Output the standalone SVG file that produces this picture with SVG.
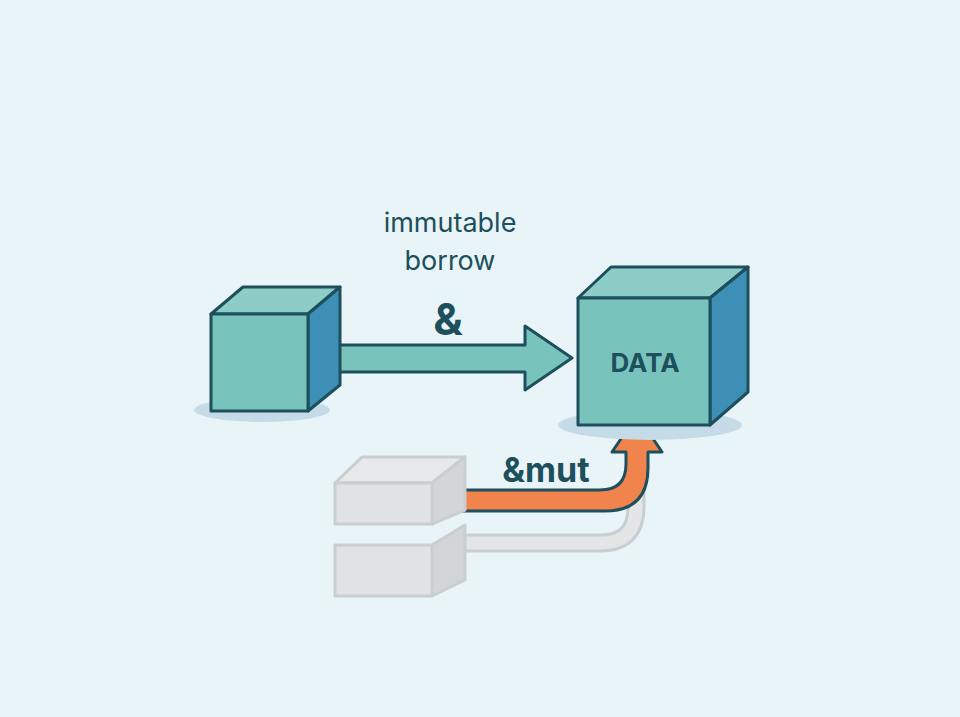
<svg xmlns="http://www.w3.org/2000/svg" width="960" height="717" viewBox="0 0 960 717">
<style>
.o{stroke:#1d4f5c;stroke-width:3;stroke-linejoin:round}
.g{stroke:#c9ced1;stroke-width:3;stroke-linejoin:round}
.t{font-family:Inter,"Liberation Sans",sans-serif;fill:#1d4f5c}
</style>
<rect width="960" height="717" fill="#e8f4f7"/>
<g id="connectors">
<path d="M450 543 H600 Q636 543 636 507 V480 M636 480" fill="none" stroke="#c9ced1" stroke-width="19"/>
<path d="M450 543 H600 Q636 543 636 507 V480" fill="none" stroke="#e3e5e6" stroke-width="13"/>
<path class="o" d="M325 345 H525 V326 L572 358 L525 390 V372 H325 Z" fill="#79c3bd"/>
<path class="o" d="M448 490 H600 Q626 490 626 464 V452 H612 L637 415 L662 452 H648 V468 Q648 511 605 511 H448 Z" fill="#f0844c"/>
</g>
<g id="source">
<ellipse cx="262" cy="410" rx="68" ry="12" fill="#c5dbe8"/>
<path class="o" d="M211 314 L243 287 H340 L308 314 Z" fill="#8dcdc8"/>
<path class="o" d="M308 314 L340 287 V385 L308 411 Z" fill="#3d8fb5"/>
<rect class="o" x="211" y="314" width="97" height="97" fill="#79c3bd"/>
</g>
<g id="data">
<ellipse cx="650" cy="425" rx="92" ry="15" fill="#c5dbe8"/>
<path class="o" d="M578 298 L611 267 H748 L710 298 Z" fill="#8dcdc8"/>
<path class="o" d="M710 298 L748 267 V392 L710 425 Z" fill="#3d8fb5"/>
<rect class="o" x="578" y="298" width="132" height="127" fill="#79c3bd"/>
<text class="t" x="645" y="372" font-size="26" font-weight="700" text-anchor="middle">DATA</text>
</g>
<g id="gray1">
<path class="g" d="M335 483 L362 457 H465 L432 483 Z" fill="#e6e8ea"/>
<path class="g" d="M432 483 L465 457 V510 L432 524 Z" fill="#d3d6d8"/>
<rect class="g" x="335" y="483" width="97" height="41" fill="#e0e2e4"/>
</g>
<g id="gray2">
<path class="g" d="M432 545 L465 525 V580 L432 596 Z" fill="#d3d6d8"/>
<rect class="g" x="335" y="545" width="97" height="51" fill="#e0e2e4"/>
</g>
<g id="labels">
<text class="t" x="450" y="232" font-size="27" text-anchor="middle">immutable</text>
<text class="t" x="450" y="270" font-size="27" text-anchor="middle">borrow</text>
<text class="t" x="448" y="335" font-size="44" font-weight="700" text-anchor="middle">&amp;</text>
<text class="t" x="546" y="482" font-size="34" font-weight="700" text-anchor="middle">&amp;mut</text>
</g>
</svg>
